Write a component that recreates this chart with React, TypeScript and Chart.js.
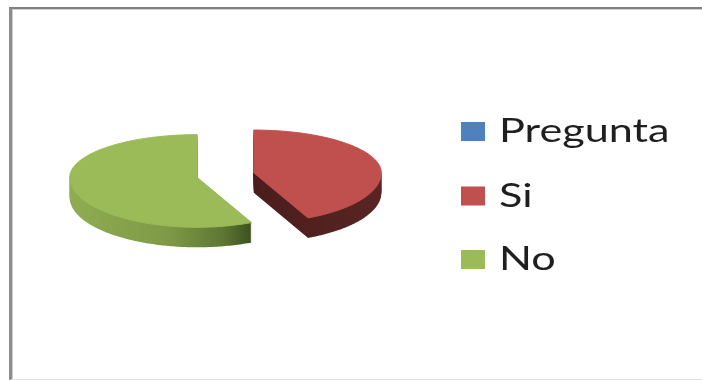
import React, { useEffect, useRef } from "react";
import { Chart, registerables } from "chart.js";

Chart.register(...registerables);

const labels = ["Pregunta", "Si", "No"];
const values = [0, 43, 57];
const topColors = ["#4F81BD", "#C0504D", "#9BBB59"];

// Tilt of the disc: the near half is drawn a little deeper than the far half.
const FAR_RATIO = 43 / 128;
const NEAR_RATIO = 50 / 128;
const WALL_DEPTH = 20;
const EXPLODE = 29;

// Legend glyphs are widened horizontally.
const LEGEND_STRETCH = 1.31;
const LEGEND_ROWS = [131.5, 196, 259.5];

const project = (cx: number, cy: number, r: number, a: number) => {
  const s = Math.sin(a);
  return [cx + r * Math.cos(a), cy + r * s * (s > 0 ? NEAR_RATIO : FAR_RATIO)];
};

const traceSlice = (
  ctx: CanvasRenderingContext2D,
  cx: number,
  cy: number,
  r: number,
  start: number,
  end: number
) => {
  ctx.beginPath();
  ctx.moveTo(cx, cy);
  const steps = Math.max(8, Math.ceil((end - start) * 60));
  for (let i = 0; i <= steps; i++) {
    const [x, y] = project(cx, cy, r, start + ((end - start) * i) / steps);
    ctx.lineTo(x, y);
  }
  ctx.closePath();
};

const wallFill = (ctx: CanvasRenderingContext2D, index: number) => {
  if (index === 1) {
    const g = ctx.createLinearGradient(254, 0, 381, 0);
    g.addColorStop(0, "#4A1D1C");
    g.addColorStop(1, "#582523");
    return g;
  }
  const g = ctx.createLinearGradient(68, 0, 250, 0);
  g.addColorStop(0, "#8FAD52");
  g.addColorStop(0.55, "#7E9A46");
  g.addColorStop(0.85, "#5F7733");
  g.addColorStop(1, "#3E5320");
  return g;
};

const tiltedPie = {
  id: "tiltedPie",
  beforeDatasetDraw(chart: any, args: any) {
    const ctx: CanvasRenderingContext2D = chart.ctx;
    args.meta.data.forEach((arc: any, i: number) => {
      if (!values[i]) return;
      const mid = (arc.startAngle + arc.endAngle) / 2;
      const sin = Math.sin(mid);
      const ox = arc.x + Math.cos(mid) * arc.options.offset;
      const oy = arc.y + sin * arc.options.offset * (sin > 0 ? NEAR_RATIO : FAR_RATIO);
      ctx.save();
      ctx.fillStyle = wallFill(ctx, i);
      for (let d = WALL_DEPTH; d >= 1; d--) {
        traceSlice(ctx, ox, oy + d, arc.outerRadius, arc.startAngle, arc.endAngle);
        ctx.fill();
      }
      ctx.fillStyle = topColors[i];
      ctx.strokeStyle = topColors[i];
      ctx.lineWidth = 1;
      ctx.lineJoin = "round";
      traceSlice(ctx, ox, oy, arc.outerRadius, arc.startAngle, arc.endAngle);
      ctx.fill();
      ctx.stroke();
      ctx.restore();
    });
    return false;
  },
};

const wideLegend = {
  id: "wideLegend",
  afterDraw(chart: any) {
    const ctx: CanvasRenderingContext2D = chart.ctx;
    labels.forEach((label, i) => {
      const y = LEGEND_ROWS[i];
      ctx.save();
      ctx.fillStyle = topColors[i];
      ctx.fillRect(461, y - 9.5, 24, 19);
      ctx.translate(499, y);
      ctx.scale(LEGEND_STRETCH, 1);
      ctx.fillStyle = "#1F1F1F";
      ctx.font = "33px Lato";
      ctx.textAlign = "left";
      ctx.textBaseline = "middle";
      ctx.fillText(label, 0, 0);
      ctx.restore();
    });
  },
};

export default function App() {
  const ref = useRef<HTMLCanvasElement>(null);

  useEffect(() => {
    const chart = new Chart(ref.current!, {
      type: "pie",
      data: {
        labels,
        datasets: [
          {
            data: values,
            backgroundColor: topColors,
            borderWidth: 0,
            offset: EXPLODE,
          },
        ],
      },
      options: {
        animation: false,
        responsive: false,
        layout: { padding: { left: 60, right: 311, top: 33, bottom: 63 } },
        plugins: {
          legend: { display: false },
          tooltip: { enabled: false },
        },
      },
      plugins: [tiltedPie, wideLegend],
    });
    return () => chart.destroy();
  }, []);

  return (
    <div style={{ position: "fixed", left: 0, top: 0, width: 702, height: 380, background: "#fff", overflow: "hidden" }}>
      <canvas ref={ref} width={702} height={380} style={{ position: "absolute", left: 0, top: 0 }} />
      <div
        style={{
          position: "absolute",
          left: 9,
          top: 7,
          width: 693,
          height: 373,
          boxSizing: "border-box",
          borderTop: "2px solid #808080",
          borderLeft: "3px solid #8C8C8C",
          borderBottom: "1px solid #E4E4E4",
          boxShadow: "inset 1px 1px 0 #CFCFCF",
        }}
      />
    </div>
  );
}
